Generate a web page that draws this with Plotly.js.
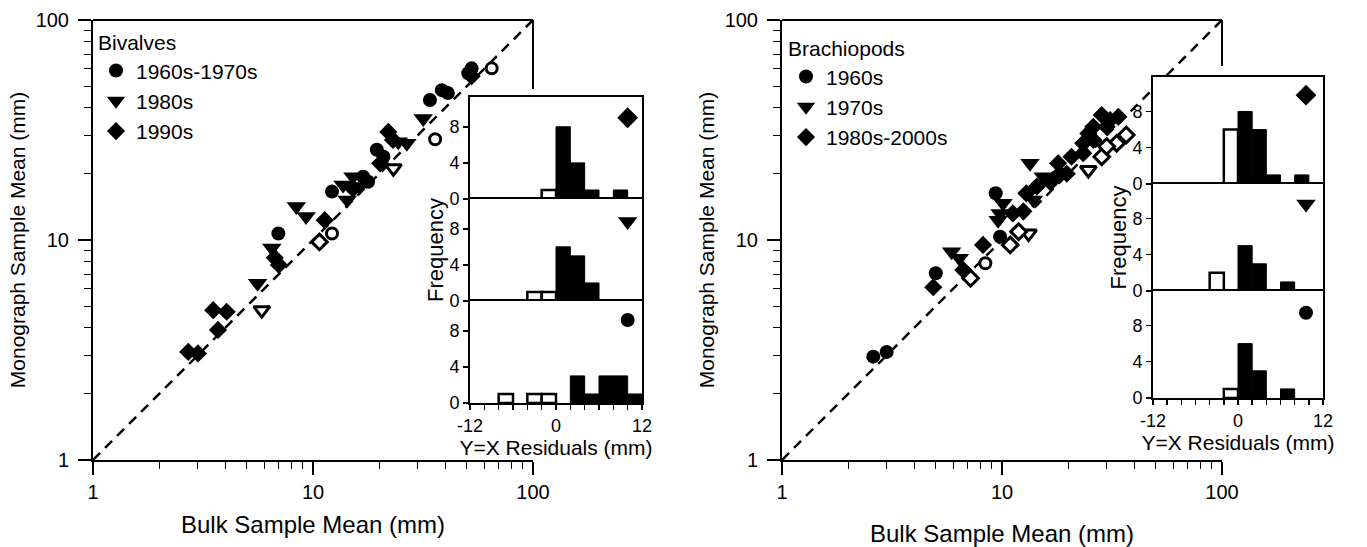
<!DOCTYPE html>
<html><head><meta charset="utf-8">
<script src="https://cdn.plot.ly/plotly-3.0.1.min.js"></script>
<style>html,body{margin:0;padding:0;background:#fff;}#chart{width:1367px;height:547px;}</style>
</head><body><div id="chart"></div>
<script>
// ---------------- DATA ----------------
// Reference line Y = X
const yxLine = [1, 100];

// Bivalves (left panel) - bulk mean (x) vs monograph mean (y), mm
const bivCircleX = [52.6, 50.8, 38.5, 41.0, 34.0, 19.5, 20.9, 12.2, 16.9, 17.8, 6.96];
const bivCircleY = [60.3, 57.3, 48.0, 46.6, 43.3, 25.7, 23.9, 16.6, 19.4, 18.4, 10.7];
const bivCircleOpenX = [64.9, 35.9, 12.2];
const bivCircleOpenY = [60.3, 28.7, 10.7];
const bivTriX = [31.7, 24.4, 26.7, 13.7, 15.2, 14.3, 16.3, 8.4, 9.3, 6.5, 5.6];
const bivTriY = [35.7, 28.0, 27.5, 17.8, 19.4, 15.2, 17.5, 14.2, 12.8, 9.2, 6.36];
const bivTriOpenX = [23.2, 5.85];
const bivTriOpenY = [21.2, 4.8];
const bivDiaX = [52.6, 22.0, 23.1, 20.2, 15.2, 11.3, 6.7, 7.0, 3.52, 4.05, 3.7, 2.71, 3.0];
const bivDiaY = [55.5, 31.0, 28.5, 22.3, 17.1, 12.3, 8.3, 7.7, 4.8, 4.72, 3.9, 3.1, 3.05];
const bivDiaOpenX = [10.7];
const bivDiaOpenY = [9.8];

// Brachiopods (right panel)
const brCircleX = [2.6, 2.99, 5.0, 9.8, 9.36];
const brCircleY = [2.95, 3.1, 7.06, 10.35, 16.3];
const brCircleOpenX = [8.4];
const brCircleOpenY = [7.84];
const brTriX = [5.9, 6.4, 9.8, 10.1, 9.6, 13.9, 13.4, 15.4];
const brTriY = [8.85, 8.26, 13.2, 14.7, 12.3, 15.2, 22.3, 19.4];
const brTriOpenX = [13.2, 24.7];
const brTriOpenY = [10.7, 20.8];
const brDiaX = [4.87, 6.67, 8.2, 11.2, 12.5, 12.9, 14.4, 16.5, 18.3, 17.0, 18.0, 19.7, 20.7, 23.4, 24.7, 26.0, 28.4, 31.0, 33.8, 26.0, 29.9, 23.4];
const brDiaY = [6.1, 7.3, 9.5, 13.2, 13.5, 16.3, 17.5, 18.4, 20.0, 18.7, 22.3, 20.0, 23.9, 27.5, 30.5, 32.7, 37.0, 35.1, 36.3, 28.5, 32.7, 24.8];
const brDiaOpenX = [7.2, 10.9, 11.9, 28.4, 33.2, 36.7, 29.9];
const brDiaOpenY = [6.7, 9.5, 10.9, 23.9, 27.5, 30.0, 26.6];

// Residual histograms (bin centres, 2 mm bins) and frequencies
const bivDiaHistOpenX = [-1], bivDiaHistOpenY = [1];
const bivDiaHistX = [1, 3, 5, 9], bivDiaHistY = [8, 4, 1, 1];
const bivTriHistOpenX = [-3, -1], bivTriHistOpenY = [1, 1];
const bivTriHistX = [1, 3, 5], bivTriHistY = [6, 5, 2];
const bivCirHistOpenX = [-7, -3, -1], bivCirHistOpenY = [1, 1, 1];
const bivCirHistX = [3, 5, 7, 9, 11], bivCirHistY = [3, 1, 3, 3, 1];

const brDiaHistOpenX = [-1], brDiaHistOpenY = [6];
const brDiaHistX = [1, 3, 5, 9], brDiaHistY = [8, 6, 1, 1];
const brTriHistOpenX = [-3], brTriHistOpenY = [2];
const brTriHistX = [1, 3, 7], brTriHistY = [5, 3, 1];
const brCirHistOpenX = [-1], brCirHistOpenY = [1];
const brCirHistX = [1, 3, 7], brCirHistY = [6, 3, 1];

// Tick labels
const mainTickVals = [1, 10, 100];
const mainTickText = ['1', '10', '100'];
const minorTickVals = [2,3,4,5,6,7,8,9,20,30,40,50,60,70,80,90];
const residTickVals = [-12,-10,-8,-6,-4,-2,0,2,4,6,8,10,12];
const residTickText = ['-12','','','','','','0','','','','','','12'];
const freqTickVals = [0, 4, 8];
const freqTickText = ['0', '4', '8'];

// ---------------- LAYOUT HELPERS ----------------
const W = 1367, H = 547;
const px = v => v / W;
const py = v => 1 - v / H;
const FONT = 'Liberation Sans, Arial, Helvetica, sans-serif';

const symFill = {
  circle: {symbol: 'circle', size: 14, color: '#000', line: {width: 0}},
  tri: {symbol: 'triangle-down', size: 17, color: '#000', line: {width: 0}},
  dia: {symbol: 'diamond', size: 14, color: '#000', line: {width: 0}}
};
const symOpen = {
  circle: {symbol: 'circle', size: 11, color: '#fff', line: {width: 3, color: '#000'}},
  tri: {symbol: 'triangle-down', size: 14, color: '#fff', line: {width: 3, color: '#000'}},
  dia: {symbol: 'diamond', size: 12, color: '#fff', line: {width: 3, color: '#000'}}
};

function pts(x, y, marker, xa, ya, name, legend, showlegend) {
  return {type: 'scatter', mode: 'markers', x, y, marker, xaxis: xa, yaxis: ya,
    name: name || '', legend: legend || 'legend', showlegend: !!showlegend, hoverinfo: 'skip', cliponaxis: false};
}
function bars(x, y, open, xa, ya) {
  return {type: 'bar', x, y, width: 2, xaxis: xa, yaxis: ya, showlegend: false, hoverinfo: 'skip',
    marker: {color: open ? '#fff' : '#000', line: {color: '#000', width: open ? 2.5 : 1}}};
}
function yxTrace(xa, ya) {
  return {type: 'scatter', mode: 'lines', x: yxLine, y: yxLine, xaxis: xa, yaxis: ya, showlegend: false,
    hoverinfo: 'skip', line: {color: '#000', width: 2.5, dash: '10px,7px'}};
}

const traces = [
  // Left main
  yxTrace('x', 'y'),
  pts(bivCircleX, bivCircleY, symFill.circle, 'x', 'y', '1960s-1970s', 'legend', true),
  pts(bivTriX, bivTriY, symFill.tri, 'x', 'y', '1980s', 'legend', true),
  pts(bivDiaX, bivDiaY, symFill.dia, 'x', 'y', '1990s', 'legend', true),
  pts(bivCircleOpenX, bivCircleOpenY, symOpen.circle, 'x', 'y'),
  pts(bivTriOpenX, bivTriOpenY, symOpen.tri, 'x', 'y'),
  pts(bivDiaOpenX, bivDiaOpenY, symOpen.dia, 'x', 'y'),
  // Right main
  yxTrace('x2', 'y2'),
  pts(brCircleX, brCircleY, symFill.circle, 'x2', 'y2', '1960s', 'legend2', true),
  pts(brTriX, brTriY, symFill.tri, 'x2', 'y2', '1970s', 'legend2', true),
  pts(brDiaX, brDiaY, symFill.dia, 'x2', 'y2', '1980s-2000s', 'legend2', true),
  pts(brCircleOpenX, brCircleOpenY, symOpen.circle, 'x2', 'y2'),
  pts(brTriOpenX, brTriOpenY, symOpen.tri, 'x2', 'y2'),
  pts(brDiaOpenX, brDiaOpenY, symOpen.dia, 'x2', 'y2'),
  // Left insets
  bars(bivDiaHistOpenX, bivDiaHistOpenY, true, 'x3', 'y3'),
  bars(bivDiaHistX, bivDiaHistY, false, 'x3', 'y3'),
  bars(bivTriHistOpenX, bivTriHistOpenY, true, 'x4', 'y4'),
  bars(bivTriHistX, bivTriHistY, false, 'x4', 'y4'),
  bars(bivCirHistOpenX, bivCirHistOpenY, true, 'x5', 'y5'),
  bars(bivCirHistX, bivCirHistY, false, 'x5', 'y5'),
  // Right insets
  bars(brDiaHistOpenX, brDiaHistOpenY, true, 'x6', 'y6'),
  bars(brDiaHistX, brDiaHistY, false, 'x6', 'y6'),
  bars(brTriHistOpenX, brTriHistOpenY, true, 'x7', 'y7'),
  bars(brTriHistX, brTriHistY, false, 'x7', 'y7'),
  bars(brCirHistOpenX, brCirHistOpenY, true, 'x8', 'y8'),
  bars(brCirHistX, brCirHistY, false, 'x8', 'y8'),
  // Inset group icons
  pts([10], [9], {symbol: 'diamond', size: 16, color: '#000'}, 'x3', 'y3'),
  pts([10], [8.8], {symbol: 'triangle-down', size: 17, color: '#000'}, 'x4', 'y4'),
  pts([10], [9.2], {symbol: 'circle', size: 14, color: '#000'}, 'x5', 'y5'),
  pts([9.6], [9.8], {symbol: 'diamond', size: 16, color: '#000'}, 'x6', 'y6'),
  pts([9.6], [9.6], {symbol: 'triangle-down', size: 17, color: '#000'}, 'x7', 'y7'),
  pts([9.6], [9.4], {symbol: 'circle', size: 14, color: '#000'}, 'x8', 'y8')
];

function mainX(domain, anchor, labelStandoff, titleStandoff) {
  return {domain, anchor, type: 'log', range: [0, 2], showline: true, linecolor: '#000', linewidth: 2,
    ticks: 'outside', ticklen: 13, tickwidth: 1.5, tickcolor: '#000',
    tickmode: 'array', tickvals: mainTickVals, ticktext: mainTickText,
    minor: {tickmode: 'array', tickvals: minorTickVals, ticks: 'outside', ticklen: 7, tickwidth: 1, tickcolor: '#000', showgrid: false},
    showgrid: false, zeroline: false, tickfont: {size: 20, color: '#000'}, ticklabelstandoff: labelStandoff,
    title: {text: 'Bulk Sample Mean (mm)', font: {size: 24, color: '#000'}, standoff: titleStandoff}};
}
function mainY(domain, anchor) {
  return {domain, anchor, type: 'log', range: [0, 2], showline: true, linecolor: '#000', linewidth: 2,
    ticks: 'outside', ticklen: 13, tickwidth: 1.5, tickcolor: '#000',
    tickmode: 'array', tickvals: mainTickVals, ticktext: mainTickText,
    minor: {tickmode: 'array', tickvals: minorTickVals, ticks: 'outside', ticklen: 7, tickwidth: 1, tickcolor: '#000', showgrid: false},
    showgrid: false, zeroline: false, tickfont: {size: 20, color: '#000'}, ticklabelstandoff: 5,
    title: {text: 'Monograph Sample Mean (mm)', font: {size: 21, color: '#000'}, standoff: 4}};
}
function insetX(domain, anchor, labels, titleStandoff) {
  const a = {domain, anchor, range: [-12, 12], showline: true, mirror: true, linecolor: '#000', linewidth: 2,
    ticks: 'outside', ticklen: 5, tickwidth: 1.5, tickcolor: '#000',
    tickmode: 'array', tickvals: residTickVals, ticktext: labels ? residTickText : residTickVals.map(() => ''),
    showgrid: false, zeroline: false, tickfont: {size: 18, color: '#000'}};
  if (titleStandoff !== undefined) a.title = {text: 'Y=X Residuals (mm)', font: {size: 21, color: '#000'}, standoff: titleStandoff};
  return a;
}
function insetY(domain, anchor, top, title) {
  const a = {domain, anchor, range: [0, top], showline: true, mirror: true, linecolor: '#000', linewidth: 2,
    ticks: 'outside', ticklen: 5, tickwidth: 1.5, tickcolor: '#000',
    tickmode: 'array', tickvals: freqTickVals, ticktext: freqTickText,
    showgrid: false, zeroline: false, tickfont: {size: 18, color: '#000'}};
  if (title) a.title = {text: 'Frequency', font: {size: 22, color: '#000'}, standoff: 0};
  return a;
}

const LX = [px(93), px(533)], RX = [px(782), px(1222)], MY = [py(460), py(20)];
const LIX = [px(470), px(642)], RIX = [px(1153), px(1323)];

const layout = {
  width: W, height: H, margin: {l: 0, r: 0, t: 0, b: 0},
  paper_bgcolor: '#fff', plot_bgcolor: '#fff',
  font: {family: FONT, color: '#000'},
  showlegend: true, hovermode: false, barmode: 'overlay',
  xaxis: mainX(LX, 'y', 0, 14), yaxis: mainY(MY, 'x'),
  xaxis2: mainX(RX, 'y2', 0, 24), yaxis2: mainY(MY, 'x2'),
  xaxis3: insetX(LIX, 'y3', false), yaxis3: insetY([py(199), py(97)], 'x3', 11.3),
  xaxis4: insetX(LIX, 'y4', false), yaxis4: insetY([py(301), py(199)], 'x4', 11.3, true),
  xaxis5: insetX(LIX, 'y5', true, 0), yaxis5: insetY([py(403), py(301)], 'x5', 11.3),
  xaxis6: insetX(RIX, 'y6', false), yaxis6: insetY([py(184), py(77)], 'x6', 11.8),
  xaxis7: insetX(RIX, 'y7', false), yaxis7: insetY([py(291), py(184)], 'x7', 11.8, true),
  xaxis8: insetX(RIX, 'y8', true, 6), yaxis8: insetY([py(398), py(291)], 'x8', 11.8),
  legend: {x: px(96), y: py(23), xanchor: 'left', yanchor: 'top', bgcolor: 'rgba(0,0,0,0)',
    font: {size: 21, color: '#000'}, title: {text: 'Bivalves', font: {size: 21, color: '#000'}}, tracegroupgap: 0},
  legend2: {x: px(786), y: py(29), xanchor: 'left', yanchor: 'top', bgcolor: 'rgba(0,0,0,0)',
    font: {size: 21, color: '#000'}, title: {text: 'Brachiopods', font: {size: 21, color: '#000'}}, tracegroupgap: 0},
  shapes: [
    {type: 'line', xref: 'paper', yref: 'paper', x0: LX[0], x1: LX[1], y0: MY[1], y1: MY[1], line: {color: '#000', width: 2}},
    {type: 'line', xref: 'paper', yref: 'paper', x0: LX[1], x1: LX[1], y0: MY[1], y1: py(89), line: {color: '#000', width: 2}},
    {type: 'line', xref: 'paper', yref: 'paper', x0: RX[0], x1: RX[1], y0: MY[1], y1: MY[1], line: {color: '#000', width: 2}},
    {type: 'line', xref: 'paper', yref: 'paper', x0: RX[1], x1: RX[1], y0: MY[1], y1: py(66), line: {color: '#000', width: 2}}
  ]
};

Plotly.newPlot('chart', traces, layout, {staticPlot: true, displayModeBar: false});
</script>
</body></html>
